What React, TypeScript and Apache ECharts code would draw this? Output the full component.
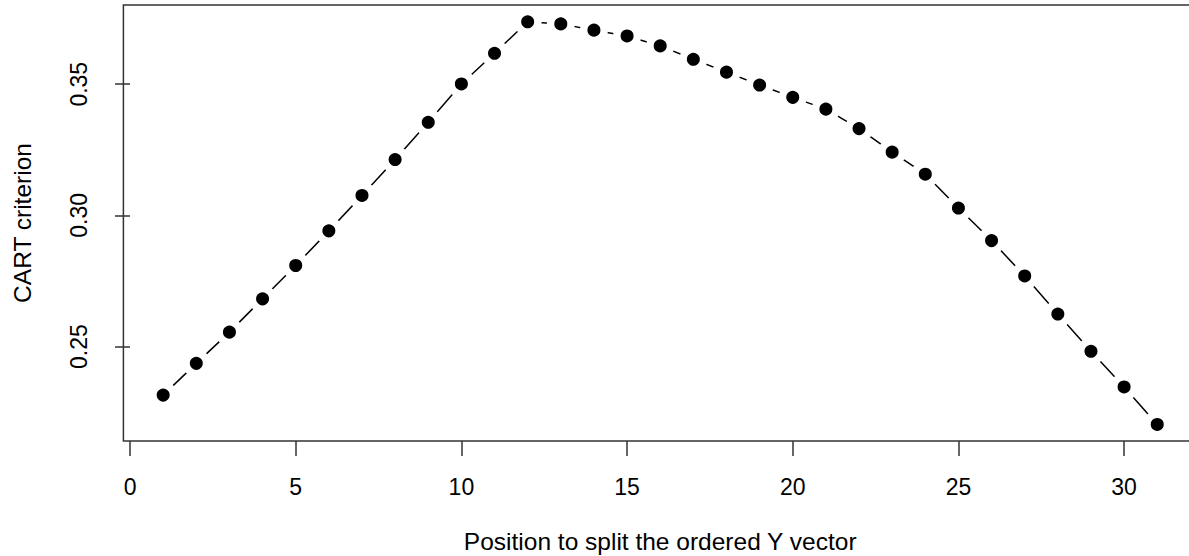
import React, { useEffect, useRef } from "react";
import * as echarts from "echarts";

// Split positions (x) and CART criterion values (y)
const positions: number[] = [
  1, 2, 3, 4, 5, 6, 7, 8, 9, 10, 11, 12, 13, 14, 15, 16, 17, 18, 19, 20, 21, 22, 23, 24, 25, 26, 27, 28, 29, 30, 31,
];
const criterion: number[] = [
  0.2315, 0.2436, 0.2555, 0.2682, 0.2809, 0.2941, 0.3076, 0.3213, 0.3355, 0.3501, 0.3618,
  0.3738, 0.373, 0.3706, 0.3684, 0.3646, 0.3595, 0.3546, 0.3497, 0.345, 0.3405, 0.3331,
  0.3241, 0.3157, 0.3028, 0.2904, 0.2769, 0.2624, 0.2482, 0.2346, 0.2203,
];
const xTicks: number[] = [0, 5, 10, 15, 20, 25, 30];
const yTicks: number[] = [0.25, 0.3, 0.35];
const xTitle = "Position to split the ordered Y vector";
const yTitle = "CART criterion";

const FONT = "'Liberation Sans', Arial, Helvetica, sans-serif";

export default function App() {
  const ref = useRef<HTMLDivElement>(null);
  useEffect(() => {
    if (!ref.current) return;
    const chart = echarts.init(ref.current, undefined, { renderer: "svg" });
    chart.setOption({
      animation: false,
      backgroundColor: "#fff",
      grid: {
        left: 123.4,
        right: -8,
        top: 5,
        bottom: 115,
        outerBoundsMode: "none",
        containLabel: false,
        show: true,
        borderColor: "#333",
        borderWidth: 1.5,
        backgroundColor: "transparent",
      },
      xAxis: {
        type: "value",
        min: -0.2,
        max: 32.2,
        name: xTitle,
        nameLocation: "middle",
        nameGap: 100,
        nameTextStyle: { fontFamily: FONT, fontSize: 24.5, color: "#000", verticalAlign: "middle" },
        axisLine: { show: false },
        splitLine: { show: false },
        axisTick: {
          show: true,
          length: 15,
          customValues: xTicks,
          lineStyle: { color: "#333", width: 1.5 },
        },
        axisLabel: {
          customValues: xTicks,
          margin: 46,
          fontFamily: FONT,
          fontSize: 23,
          color: "#000",
          verticalAlign: "middle",
          formatter: (v: number) => String(v),
        },
      },
      yAxis: {
        type: "value",
        min: 0.214,
        max: 0.3802,
        name: yTitle,
        nameLocation: "middle",
        nameGap: 101,
        nameRotate: 90,
        nameTextStyle: { fontFamily: FONT, fontSize: 24.5, color: "#000", verticalAlign: "middle" },
        axisLine: { show: false },
        splitLine: { show: false },
        axisTick: {
          show: true,
          length: 15,
          customValues: yTicks,
          lineStyle: { color: "#333", width: 1.5 },
        },
        axisLabel: {
          customValues: yTicks,
          rotate: 90,
          margin: 44,
          fontFamily: FONT,
          fontSize: 23,
          color: "#000",
          align: "center",
          verticalAlign: "middle",
          formatter: (v: number) => v.toFixed(2),
        },
      },
      series: [
        {
          type: "line",
          data: positions.map((p, i) => [p, criterion[i]]),
          symbol: "circle",
          symbolSize: 20.5,
          showSymbol: true,
          lineStyle: { color: "#000", width: 1.5, type: "solid" },
          itemStyle: { color: "#000", borderColor: "#fff", borderWidth: 7.5 },
          emphasis: { disabled: true },
        },
      ],
    });
    return () => chart.dispose();
  }, []);
  return (
    <div
      ref={ref}
      style={{ position: "fixed", left: 0, top: 0, width: "1189px", height: "556px", background: "#fff" }}
    />
  );
}
